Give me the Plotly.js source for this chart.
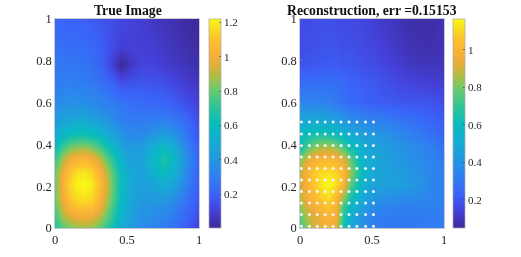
<!DOCTYPE html>
<html><head><meta charset="utf-8">
<script src="https://cdn.plot.ly/plotly-3.0.1.min.js"></script>
<style>html,body{margin:0;padding:0;background:#fff;overflow:hidden}#c{width:521px;height:257px;filter:blur(.35px)}</style>
</head><body><div id="c"></div>
<script>
const gridX=[0,.05,.1,.15,.2,.25,.3,.35,.4,.46,.52,.6,.68,.76,.84,.92,1];
const gridY=[0,.05,.1,.15,.21,.27,.33,.39,.45,.52,.6,.7,.78,.86,1];
const trueValues=[
[.68,.76,.82,.85,.86,.85,.80,.73,.62,.50,.43,.36,.32,.29,.24,.17,.10],
[.73,.85,.93,.97,.98,.97,.91,.81,.68,.54,.45,.38,.35,.33,.27,.20,.13],
[.78,.93,1.04,1.09,1.10,1.09,1.02,.89,.73,.57,.47,.40,.38,.37,.31,.23,.15],
[.81,.98,1.11,1.17,1.18,1.16,1.08,.94,.77,.59,.48,.42,.42,.43,.36,.26,.17],
[.82,1.00,1.14,1.21,1.22,1.20,1.11,.97,.79,.61,.49,.43,.47,.52,.43,.30,.19],
[.80,.97,1.10,1.17,1.18,1.15,1.06,.93,.76,.59,.48,.45,.53,.61,.50,.33,.20],
[.72,.87,.98,1.04,1.05,1.02,.94,.82,.68,.54,.45,.46,.57,.68,.54,.35,.20],
[.60,.71,.79,.83,.84,.81,.75,.66,.56,.46,.40,.42,.51,.58,.47,.31,.18],
[.50,.56,.61,.63,.63,.61,.57,.51,.45,.38,.34,.34,.39,.43,.37,.26,.16],
[.41,.45,.47,.48,.48,.46,.43,.39,.35,.31,.29,.28,.29,.30,.27,.21,.14],
[.35,.36,.37,.37,.36,.35,.33,.31,.29,.27,.25,.23,.22,.21,.18,.14,.10],
[.30,.30,.30,.30,.29,.28,.26,.23,.19,.14,.15,.16,.15,.14,.11,.08,.06],
[.28,.28,.27,.27,.26,.25,.22,.17,.09,.00,.06,.12,.11,.09,.07,.05,.03],
[.25,.25,.24,.24,.23,.22,.20,.17,.13,.09,.10,.10,.09,.07,.05,.03,.02],
[.21,.21,.20,.20,.19,.18,.17,.15,.14,.12,.11,.09,.07,.05,.03,.01,.005]];
const reconValues=[
[.72,.82,.90,.95,.97,.92,.66,.50,.42,.35,.31,.30,.30,.30,.31,.32,.32],
[.76,.86,.92,.97,1.00,.96,.68,.52,.44,.37,.33,.31,.31,.31,.31,.32,.32],
[.82,.92,.97,1.02,1.05,.98,.72,.58,.49,.41,.36,.34,.33,.33,.33,.33,.32],
[.88,.97,1.03,1.09,1.12,1.03,.85,.66,.55,.46,.41,.39,.38,.37,.36,.34,.33],
[.90,1.00,1.07,1.14,1.165,1.12,1.00,.78,.62,.50,.47,.46,.45,.43,.40,.36,.33],
[.88,1.00,1.08,1.11,1.12,1.09,1.02,.85,.68,.54,.49,.46,.44,.41,.38,.35,.32],
[.80,.92,.98,1.01,1.02,.99,.93,.78,.62,.52,.49,.45,.42,.39,.37,.34,.31],
[.62,.73,.80,.85,.85,.81,.72,.62,.55,.49,.46,.43,.40,.38,.35,.32,.28],
[.58,.62,.65,.65,.63,.60,.55,.50,.47,.44,.42,.39,.36,.33,.30,.27,.24],
[.47,.48,.48,.48,.47,.44,.41,.37,.35,.34,.33,.31,.29,.27,.25,.23,.21],
[.35,.35,.34,.34,.33,.31,.28,.26,.25,.23,.22,.21,.20,.20,.20,.19,.18],
[.26,.27,.27,.27,.27,.26,.25,.23,.22,.21,.20,.18,.16,.15,.14,.13,.13],
[.19,.20,.20,.21,.21,.21,.20,.20,.19,.18,.17,.15,.13,.11,.10,.10,.10],
[.17,.18,.18,.19,.19,.19,.18,.18,.17,.16,.15,.13,.11,.09,.08,.08,.09],
[.17,.17,.18,.18,.18,.17,.17,.16,.16,.15,.13,.11,.09,.07,.07,.07,.09]];
const sensorX=[.01,.065,.12,.175,.23,.285,.34,.395,.455,.51];
const sensorY=[.008,.065,.12,.175,.23,.285,.34,.395,.45,.507];
const titles=["True Image","Reconstruction, err =0.15153"];
const axisTicks=[0,.2,.4,.6,.8,1];
const xTicks=[0,.5,1];
const xTickText=["0","0.5","1"];
const yTickText=["0","0.2","0.4","0.6","0.8","1"];
const leftBarTicks=[.2,.4,.6,.8,1,1.2];
const leftBarText=["0.2","0.4","0.6","0.8","1","1.2"];
const rightBarTicks=[.2,.4,.6,.8,1];
const rightBarText=["0.2","0.4","0.6","0.8","1"];
const parula=[[0,'#3d2a9a'],[.08,'#4440d8'],[.16,'#3a62f8'],[.25,'#2f80f0'],[.33,'#2298e0'],[.42,'#14aed0'],[.5,'#08bcbc'],[.58,'#30c498'],[.66,'#68ca70'],[.72,'#a8c048'],[.77,'#d8b038'],[.82,'#f5ae3a'],[.9,'#fdc02e'],[.96,'#f8e020'],[1,'#f9fb15']];
const W=521,H=257;
const font={family:'"Liberation Serif",serif',size:12.5,color:'#262626'};
const barFont={family:'"Liberation Serif",serif',size:11,color:'#262626'};
const titleFont={family:'"Liberation Serif",serif',size:13.7,color:'#111'};
function cb(left,tv,tt){return{x:left/W,xanchor:'left',y:1-(228+19)/2/H,yanchor:'middle',len:209/H,lenmode:'fraction',thickness:12,thicknessmode:'pixels',xpad:0,ypad:0,outlinewidth:.7,outlinecolor:'#a8a8b0',tickvals:tv,ticktext:tt,ticks:'inside',ticklen:2,tickwidth:.6,tickcolor:'#333',tickfont:barFont};}
const hm=(z,xa,ya,zmin,zmax,bar)=>({type:'heatmap',x:gridX,y:gridY,z,xaxis:xa,yaxis:ya,zmin,zmax,zsmooth:'best',colorscale:parula,colorbar:bar,hoverinfo:'skip'});
const data=[
hm(trueValues,'x','y',.003,1.22,cb(209,leftBarTicks,leftBarText)),
hm(reconValues,'x2','y2',.05,1.165,cb(453,rightBarTicks,rightBarText)),
{type:'scatter',mode:'markers',xaxis:'x2',yaxis:'y2',x:sensorX.flatMap(v=>sensorY.map(()=>v)),y:sensorX.flatMap(()=>sensorY),marker:{color:'#f2f6fa',size:3},hoverinfo:'skip',showlegend:false}];
const xaxis=(l,r)=>({domain:[l/W,r/W],range:[0,1],tickvals:xTicks,ticktext:xTickText,ticks:'inside',ticklen:1.5,tickwidth:.5,tickcolor:'#888',showgrid:false,zeroline:false,showline:true,linecolor:'#b4b4bc',linewidth:.7,mirror:true,tickfont:font,tickangle:0});
const yaxis={domain:[1-228/H,1-19/H],range:[0,1],tickvals:axisTicks,ticktext:yTickText,ticks:'inside',ticklen:1.5,tickwidth:.5,tickcolor:'#888',showgrid:false,zeroline:false,showline:true,linecolor:'#b4b4bc',linewidth:.7,mirror:true,tickfont:font};
const layout={width:W,height:H,margin:{l:0,r:0,t:0,b:0},paper_bgcolor:'#fff',plot_bgcolor:'#fff',showlegend:false,
xaxis:xaxis(55,199),xaxis2:xaxis(300,444),yaxis:{...yaxis},yaxis2:{...yaxis,anchor:'x2'},
annotations:[{text:'<b>'+titles[0]+'</b>',xref:'paper',yref:'paper',x:127.5/W,y:1-11/H,xanchor:'center',yanchor:'middle',showarrow:false,font:titleFont},
{text:'<b>'+titles[1]+'</b>',xref:'paper',yref:'paper',x:372/W,y:1-11/H,xanchor:'center',yanchor:'middle',showarrow:false,font:titleFont}]};
Plotly.newPlot('c',data,layout,{staticPlot:true,displayModeBar:false});
</script></body></html>
